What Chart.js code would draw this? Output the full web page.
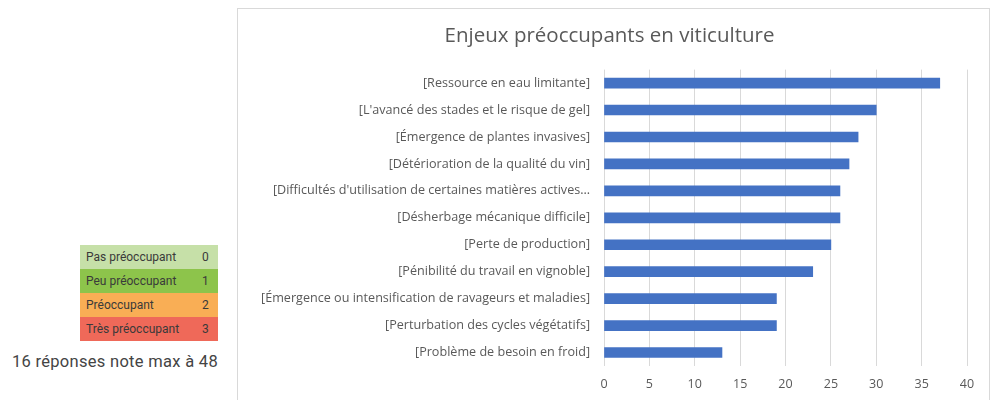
<!DOCTYPE html>
<html>
<head>
<meta charset="utf-8">
<script src="https://cdn.jsdelivr.net/npm/chart.js@4/dist/chart.umd.min.js"></script>
<style>
  html, body { margin: 0; padding: 0; background: #fff; }
  body { width: 997px; height: 400px; position: relative; overflow: hidden; font-family: Roboto, sans-serif; }
  #box { position: absolute; left: 237px; top: 8px; width: 753px; height: 392px; border: 1px solid #d9d9d9; border-bottom: none; box-sizing: border-box; }
  #scale { position: absolute; left: 80px; top: 245px; width: 138px; border-collapse: collapse; font-size: 12px; color: #3a3a3a; }
  #scale td { height: 24px; padding: 0 0 0 6px; }
  #scale td.n { text-align: left; width: 16px; padding-left: 0; }
  #note { position: absolute; right: calc(997px - 218px); top: 352px; font-size: 16.5px; letter-spacing: 0.3px; color: #444; white-space: nowrap; }
</style>
</head>
<body>
<table id="scale"></table>
<div id="note"></div>
<div id="box"><canvas id="chart" width="751" height="392"></canvas></div>
<script>
// chart data
const categories = [
  '[Ressource en eau limitante]',
  "[L'avancé des stades et le risque de gel]",
  '[Émergence de plantes invasives]',
  '[Détérioration de la qualité du vin]',
  "[Difficultés d'utilisation de certaines matières actives…",
  '[Désherbage mécanique difficile]',
  '[Perte de production]',
  '[Pénibilité du travail en vignoble]',
  '[Émergence ou intensification de ravageurs et maladies]',
  '[Perturbation des cycles végétatifs]',
  '[Problème de besoin en froid]'
];
const scores = [37, 30, 28, 27, 26, 26, 25, 23, 19, 19, 13];

// scale legend on the left
const levelLabels = ['Pas préoccupant', 'Peu préoccupant', 'Préoccupant', 'Très préoccupant'];
const levelValues = [0, 1, 2, 3];
const noteText = '16 réponses note max à 48';

const levelColors = ['#c6e0a8', '#8dc44b', '#f9ae55', '#ef6959'];

const table = document.getElementById('scale');
levelLabels.forEach((lbl, i) => {
  const tr = document.createElement('tr');
  tr.style.background = levelColors[i];
  tr.innerHTML = '<td>' + lbl + '</td><td class="n">' + levelValues[i] + '</td>';
  table.appendChild(tr);
});
document.getElementById('note').textContent = noteText;

const ctx = document.getElementById('chart');
new Chart(ctx, {
  type: 'bar',
  data: {
    labels: categories,
    datasets: [{
      data: scores,
      backgroundColor: '#4472c4',
      barThickness: 10
    }]
  },
  options: {
    indexAxis: 'y',
    responsive: false,
    animation: false,
    // left padding keeps the title near the centre of the box
    // (labels are clipped to the scale area, so not too much)
    layout: { padding: { left: 14, right: 22, top: 0, bottom: 0 } },
    plugins: {
      legend: { display: false },
      tooltip: { enabled: false },
      title: {
        display: true,
        text: 'Enjeux préoccupants en viticulture',
        color: '#595959',
        font: { family: '"Open Sans"', size: 20.5, weight: 'normal' },
        padding: { top: 15, bottom: 21 }
      }
    },
    scales: {
      x: {
        min: 0,
        max: 40,
        ticks: {
          stepSize: 5,
          color: '#595959',
          padding: 11,
          font: { family: '"Open Sans"', size: 12.5 }
        },
        grid: { color: '#d9d9d9', drawTicks: false },
        border: { display: false },
        afterFit: s => { s.height = 35; }
      },
      y: {
        ticks: {
          color: '#595959',
          padding: 6,
          autoSkip: false,
          font: { family: '"Open Sans"', size: 12.6 }
        },
        grid: { display: false },
        border: { display: false },
        afterFit: s => { s.width = 352; }
      }
    }
  }
});
</script>
</body>
</html>
